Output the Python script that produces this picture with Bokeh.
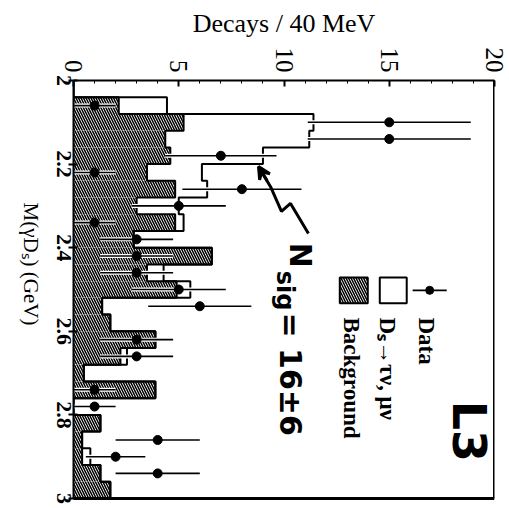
import math
from bokeh.plotting import figure
from bokeh.models import Range1d, FixedTicker, Label, Arrow, VeeHead, LinearAxis
from bokeh.embed import file_html
from bokeh.resources import INLINE

# ---- data (mass bins of 40 MeV, lower edges in GeV) ----
bin_low = [2.00, 2.04, 2.08, 2.12, 2.16, 2.20, 2.24, 2.28, 2.32, 2.36,
           2.40, 2.44, 2.48, 2.52, 2.56, 2.60, 2.64, 2.68, 2.72, 2.76,
           2.80, 2.84, 2.88, 2.92, 2.96]
bin_width = 0.04
background = [0.0, 2.15, 5.23, 4.36, 4.6, 3.49, 4.83, 3.0, 4.83, 2.86,
              6.57, 3.49, 4.9, 1.36, 1.75, 3.89, 2.23, 0.49, 3.89, 0.0,
              1.28, 0.41, 0.41, 1.28, 1.75]
signal = [0.0, 2.29, 6.17, 6.84, 4.4, 2.61, 1.52, 2.0, 0.4, 0.0,
          0.0, 0.79, 0.65, 0.0, 0.0, 0.0, 0.31, 0.0, 0.0, 0.0,
          0.0, 0.0, 0.39, 0.0, 0.0]
data = [0, 1, 15, 15, 7, 1, 8, 5, 1, 3,
        3, 3, 5, 6, 0, 3, 3, 0, 1, 1,
        0, 4, 2, 4, 0]
x_ticks = [0, 5, 10, 15, 20]
y_ticks = [2.0, 2.2, 2.4, 2.6, 2.8, 3.0]
y_tick_labels = ["2", "2.2", "2.4", "2.6", "2.8", "3"]

centers = [b + bin_width / 2 for b in bin_low]
total = [b + s for b, s in zip(background, signal)]

PX_PER_GEV = 418.0
FRAME_H = 428
m_min, m_max = 2.0, 3.0

p = figure(width=509, height=508, output_backend="svg", toolbar_location=None,
           x_axis_location="above", x_range=Range1d(0, 20),
           y_range=Range1d(m_min + FRAME_H / PX_PER_GEV, m_min),
           min_border_left=73, min_border_right=15, min_border_top=80, min_border_bottom=0)
p.grid.visible = False
p.outline_line_color = None
p.background_fill_color = "white"
p.border_fill_color = "white"

# background (hatched)
p.hbar(y=centers, height=bin_width, left=0, right=background, fill_color="white",
       hatch_pattern="\\", hatch_color="black", hatch_scale=5, hatch_weight=1.5, line_color=None)
# signal stacked on background
p.hbar(y=centers, height=bin_width, left=background, right=total, fill_color="white", line_color=None)

def step_path(vals):
    xs, ys = [0], [bin_low[0]]
    for lo, v in zip(bin_low, vals):
        xs += [v, v]
        ys += [lo, lo + bin_width]
    xs.append(0)
    ys.append(bin_low[-1] + bin_width)
    return xs, ys

bx, by = step_path(background)
tx, ty = step_path(total)
p.line(tx, ty, line_color="black", line_width=2)
p.line(bx, by, line_color="black", line_width=2)

# data points with sqrt(N) errors
dc = [c for c, d in zip(centers, data) if d > 0]
dv = [d for d in data if d > 0]
lo_err = [d - math.sqrt(d) for d in dv]
hi_err = [d + math.sqrt(d) for d in dv]
p.segment(x0=lo_err, x1=hi_err, y0=dc, y1=dc, line_color="white", line_width=4)
p.segment(x0=lo_err, x1=hi_err, y0=dc, y1=dc, line_color="black", line_width=1.6)
p.scatter(x=dv, y=dc, size=9, color="black")

# frame: right and bottom edges (top/left are the axes)
p.segment(x0=[20, 0], x1=[20, 20], y0=[m_min, m_max], y1=[m_max, m_max],
          line_color="black", line_width=3)

# top axis (decays)
xa = p.xaxis[0]
xa.ticker = FixedTicker(ticks=x_ticks, minor_ticks=list(range(0, 21)))
xa.major_label_orientation = -math.pi / 2
xa.major_label_text_font = "Liberation Serif"
xa.major_label_text_font_size = "25px"
xa.major_label_text_color = "black"
xa.major_label_standoff = 8
xa.major_tick_in = 6
xa.major_tick_out = 0
xa.minor_tick_in = 3
xa.minor_tick_out = 0
xa.axis_line_width = 2
xa.major_tick_line_width = 2
xa.axis_label = "Decays / 40 MeV"
xa.axis_label_text_font = "Liberation Serif"
xa.axis_label_text_font_size = "26px"
xa.axis_label_text_font_style = "normal"
xa.axis_label_text_color = "black"
xa.axis_label_standoff = 7

# left axis (mass): ticks only
ya = p.yaxis[0]
ya.ticker = FixedTicker(ticks=y_ticks)
ya.bounds = (m_min, m_max)
ya.major_label_overrides = {t: "" for t in y_ticks}
ya.major_label_standoff = 0
ya.major_tick_in = 4
ya.major_tick_out = 5
ya.major_tick_line_width = 2
ya.minor_tick_in = 0
ya.minor_tick_out = 0
ya.axis_line_width = 2
ya.axis_label = None

# rotated tick labels (Bokeh anchors a -90 deg label at its end, so shift by half its length)
LABEL_PX = 22
def half_len(txt):
    w = sum(0.25 if ch == "." else 0.5 for ch in txt) * LABEL_PX
    return w / 2 / PX_PER_GEV
lab_pos = [round(t + half_len(s), 4) for t, s in zip(y_ticks, y_tick_labels)]
ya_lab = LinearAxis(ticker=FixedTicker(ticks=lab_pos),
                    major_label_overrides={pp: s for pp, s in zip(lab_pos, y_tick_labels)},
                    major_label_orientation=-math.pi / 2,
                    major_label_text_font="Liberation Serif",
                    major_label_text_font_style="bold",
                    major_label_text_font_size=f"{LABEL_PX}px",
                    major_label_text_color="black",
                    major_label_standoff=5,
                    major_tick_in=0, major_tick_out=0,
                    minor_tick_in=0, minor_tick_out=0,
                    axis_line_color=None)
p.add_layout(ya_lab, "left")

# mass axis title: an extra left axis carrying a single rotated label (anchored at its end)
title_end = 2.586
ya2 = LinearAxis(ticker=FixedTicker(ticks=[title_end]),
                 major_label_overrides={title_end: "M(γDₛ) (GeV)"},
                 major_label_orientation=-math.pi / 2,
                 major_label_text_font="Liberation Serif",
                 major_label_text_font_size="21px",
                 major_label_text_color="black",
                 major_label_standoff=16,
                 major_tick_in=0, major_tick_out=0,
                 minor_tick_in=0, minor_tick_out=0,
                 axis_line_color=None)
p.add_layout(ya2, "left")

# legend (hand built, rotated)
p.segment(x0=[16.11], x1=[17.73], y0=[2.502], y1=[2.502], line_color="black", line_width=1.6)
p.scatter(x=[16.92], y=[2.502], size=8, color="black")
p.quad(left=[14.55], right=[15.83], top=[2.471], bottom=[2.533], fill_color="white",
       line_color="black", line_width=2)
p.quad(left=[12.65], right=[13.98], top=[2.471], bottom=[2.533], fill_color="white",
       hatch_pattern="\\", hatch_color="black", hatch_scale=5, hatch_weight=1.5,
       line_color="black", line_width=2)
for txt, xx in [("Data", 16.78), ("Dₛ→τν, μν", 14.9), ("Background", 13.2)]:
    p.add_layout(Label(x=xx, y=2.567, text=txt, angle=-math.pi / 2, text_align="left",
                       text_baseline="middle", text_font="Liberation Serif",
                       text_font_style="bold", text_font_size="23px", text_color="black"))

p.add_layout(Label(x=18.81, y=2.766, text="L3", angle=-math.pi / 2, text_align="left",
                   text_baseline="middle", text_font="DejaVu Sans", text_font_style="bold",
                   text_font_size="46px", text_color="black"))

# handwritten annotation
p.add_layout(Label(x=10.8, y=2.388, text="N", angle=-math.pi / 2, text_align="left",
                   text_baseline="middle", text_font="DejaVu Sans", text_font_style="bold",
                   text_font_size="30px", text_color="black"))
p.add_layout(Label(x=10.06, y=2.455, text="sig", angle=-math.pi / 2, text_align="left",
                   text_baseline="middle", text_font="DejaVu Sans", text_font_style="bold",
                   text_font_size="24px", text_color="black"))
p.add_layout(Label(x=10.3, y=2.555, text="= 16±6", angle=-math.pi / 2, text_align="left",
                   text_baseline="middle", text_font="DejaVu Sans", text_font_style="bold",
                   text_font_size="30px", text_color="black"))
p.line([11.16, 10.31, 9.88, 9.36, 8.79], [2.366, 2.294, 2.313, 2.254, 2.206],
       line_color="black", line_width=3)
p.add_layout(Arrow(x_start=9.2, y_start=2.24, x_end=8.79, y_end=2.206,
                   end=VeeHead(size=12, line_color="black", line_width=3, fill_color="black"),
                   line_color="black", line_width=3))

open("out.html", "w").write(file_html(p, INLINE))
